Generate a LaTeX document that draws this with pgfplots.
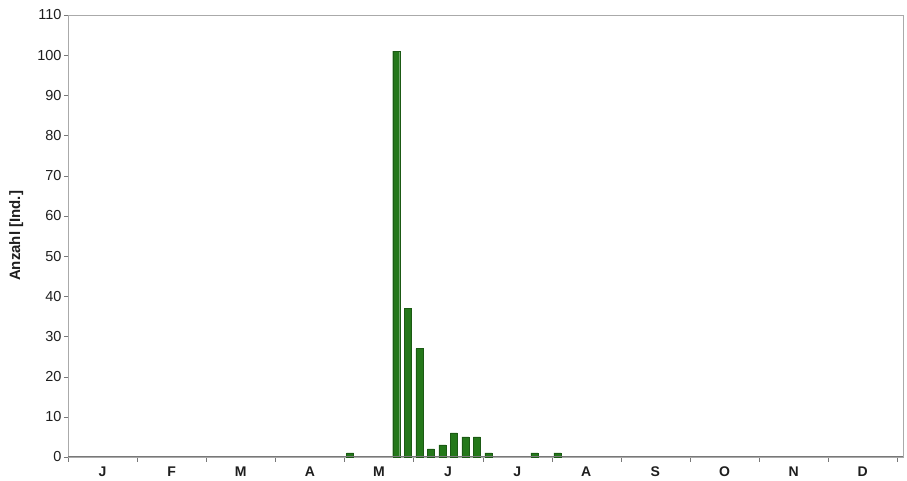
\documentclass[border=0pt]{standalone}
\usepackage{fontspec}
\setmainfont{Liberation Sans}
\usepackage{pgfplots}
\pgfplotsset{compat=1.18}
\definecolor{bargreen}{RGB}{36,120,26}
\definecolor{framegray}{RGB}{170,170,170}
\definecolor{axisgray}{RGB}{120,120,120}
\definecolor{txt}{RGB}{30,30,30}
\begin{document}
\begin{tikzpicture}[x=1pt,y=1pt]
\path (0,0) rectangle (907,481);
\begin{axis}[
  at={(68pt,24pt)}, anchor=south west,
  scale only axis, width=835pt, height=442pt,
  xmin=0, xmax=72.5, ymin=0, ymax=110,
  ytick={0,10,...,110},
  xtick={3,9,...,69},
  xticklabels={J,F,M,A,M,J,J,A,S,O,N,D},
  minor xtick={0,6,...,72},
  tick align=outside,
  major tick length=4pt, minor tick length=5pt,
  x tick style={draw=none},
  minor x tick style={draw=axisgray},
  y tick style={draw=axisgray},
  tick pos=lower,
  axis line style={draw=framegray, line width=0.9pt},
  x tick label style={font=\fontsize{14}{16}\selectfont\bfseries, text=txt, yshift=-2pt},
  y tick label style={font=\fontsize{14.5}{16}\selectfont, text=txt, xshift=1pt},
  /pgf/number format/assume math mode=true,
  ylabel={\bfseries Anzahl [Ind.]},
  every axis y label/.style={at={(axis description cs:-0.062,0.5)}, rotate=90, anchor=center, font=\fontsize{15}{17}\selectfont, text=txt},
  ybar, bar width=7pt, bar shift=0pt,
  clip=false,
]
\addplot[fill=bargreen, draw=bargreen!75!black, line width=0.4pt] coordinates {
  (24.5,1) (28.5,101) (29.5,37) (30.5,27) (31.5,2) (32.5,3) (33.5,6)
  (34.5,5) (35.5,5) (36.5,1) (40.5,1) (42.5,1)
};
\draw[axisgray, line width=1pt] (axis cs:0,0) -- (axis cs:72.5,0);
\end{axis}
\end{tikzpicture}
\end{document}
